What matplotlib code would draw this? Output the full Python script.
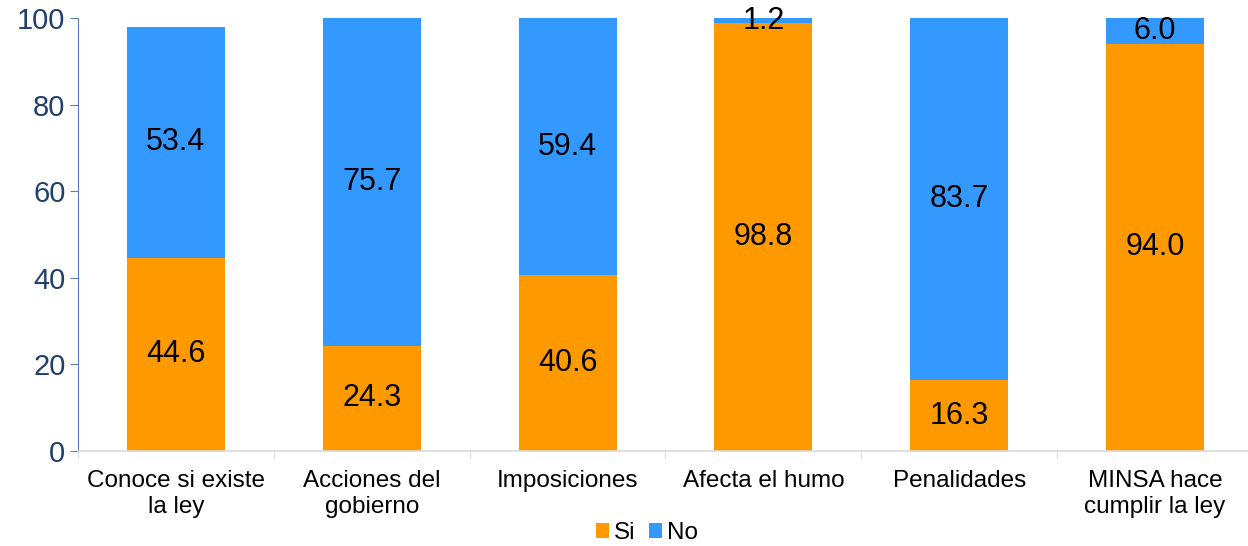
import numpy as np
import matplotlib.pyplot as plt

plt.rcParams['font.family'] = ['Liberation Sans', 'DejaVu Sans']

categories = ['Conoce si existe\nla ley', 'Acciones del\ngobierno', 'Imposiciones',
              'Afecta el humo', 'Penalidades', 'MINSA hace\ncumplir la ley']
si = [44.6, 24.3, 40.6, 98.8, 16.3, 94.0]
no = [53.4, 75.7, 59.4, 1.2, 83.7, 6.0]

fig = plt.figure(figsize=(12.48, 5.46), dpi=100)
ax = fig.add_axes([78/1248, 1 - 451/546, 1175/1248, 433/546])

x = np.arange(len(categories))
b1 = ax.bar(x, si, width=0.5, color='#FF9900', label='Si')
b2 = ax.bar(x, no, width=0.5, bottom=si, color='#3399FF', label='No')

for xi, s, n in zip(x, si, no):
    ax.text(xi, s / 2, f'{s:.1f}', ha='center', va='center', fontsize=22, color='black')
    ax.text(xi, s + n / 2, f'{n:.1f}', ha='center', va='center', fontsize=22, color='black')

ax.set_xlim(-0.5, len(categories) - 0.5)
ax.set_ylim(0, 100)
ax.set_yticks(range(0, 101, 20))
ax.tick_params(axis='y', colors='#4F81BD', labelcolor='#1F3F6F', labelsize=21, length=6, pad=3)
ax.set_xticks(x)
ax.set_xticklabels(categories, fontsize=17.5)
ax.set_xticks(np.arange(-0.5, len(categories), 1), minor=True)
ax.tick_params(axis='x', which='major', length=0, pad=14)
ax.tick_params(axis='x', which='minor', length=6, color='#D9D9D9')

for side in ['top', 'right']:
    ax.spines[side].set_visible(False)
ax.spines['left'].set_color('#4F81BD')
ax.spines['bottom'].set_color('#D9D9D9')
ax.spines['bottom'].set_linewidth(1.2)

fig.legend(handles=[b1, b2], loc='center', bbox_to_anchor=(647/1248, 1 - 533/546), ncol=2,
           frameon=False, fontsize=17.5, handlelength=0.55, handleheight=0.55,
           handletextpad=0.2, columnspacing=0.55)

fig.savefig('out.png', dpi=100)
